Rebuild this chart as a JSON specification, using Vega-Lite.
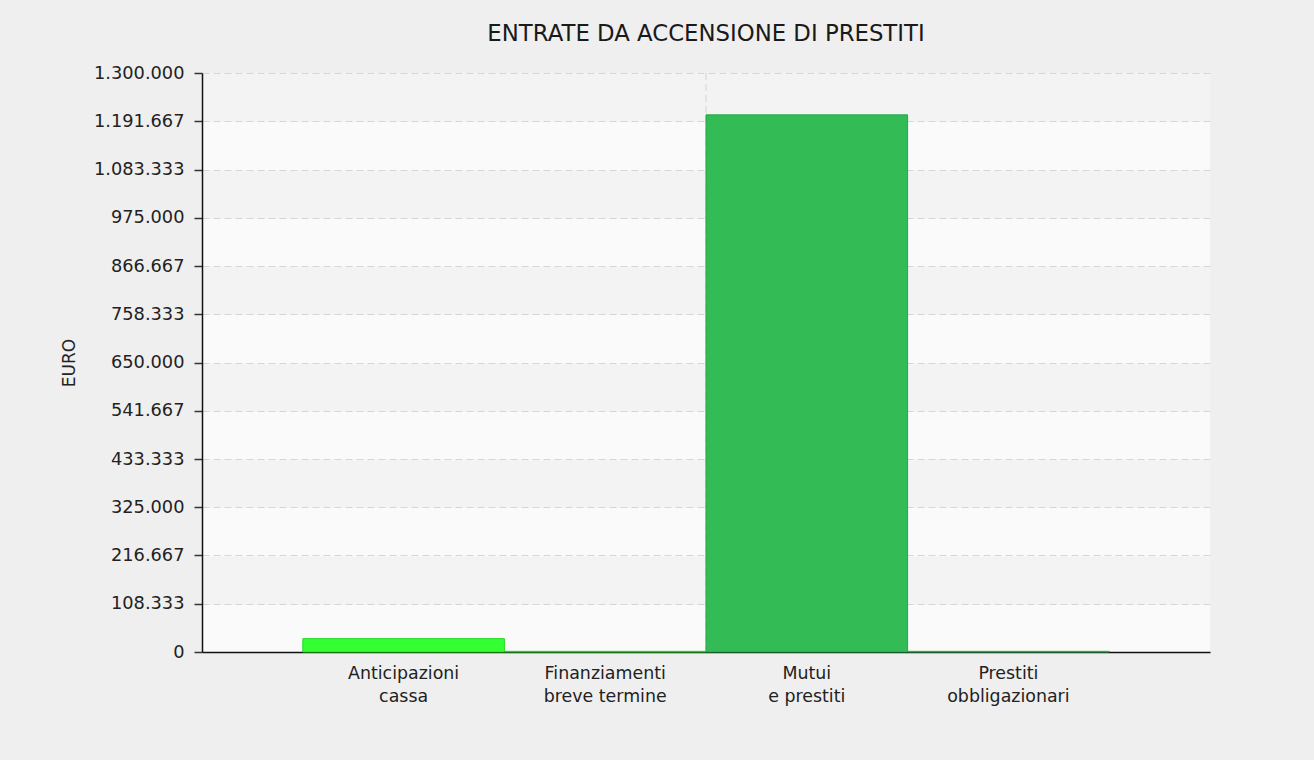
{
  "$schema": "https://vega.github.io/schema/vega-lite/v6.json",
  "width": 1008,
  "height": 579,
  "autosize": {"type": "none"},
  "padding": {"left": 202, "top": 73, "right": 104, "bottom": 108},
  "background": "#efefef",
  "title": {
    "text": "ENTRATE DA ACCENSIONE DI PRESTITI",
    "fontSize": 22.8,
    "fontWeight": "normal",
    "color": "#1a1a1a",
    "font": "DejaVu Sans",
    "anchor": "middle",
    "frame": "group",
    "offset": 18
  },
  "data": {
    "values": [
      {"voce": "Anticipazioni cassa", "euro": 30000},
      {"voce": "Finanziamenti breve termine", "euro": 1500},
      {"voce": "Mutui e prestiti", "euro": 1206000},
      {"voce": "Prestiti obbligazionari", "euro": 1500}
    ]
  },
  "resolve": {"axis": {"y": "independent"}},
  "layer": [
    {
      "mark": {"type": "bar", "opacity": 0},
      "encoding": {
        "x": {"field": "voce", "type": "nominal", "sort": null, "scale": {"paddingInner": 0, "paddingOuter": 0.5}},
        "y": {
          "field": "euro",
          "type": "quantitative",
          "scale": {"domain": [0, 1300000], "nice": false, "zero": true},
          "axis": {
            "orient": "left",
            "values": [1245833.333, 1029166.667, 812500, 595833.333, 379166.667, 162500],
            "grid": true,
            "gridColor": "#f3f3f3",
            "gridWidth": 48.25,
            "gridDash": [],
            "labels": false,
            "ticks": false,
            "domain": false,
            "title": null
          }
        }
      }
    },
    {
      "transform": [{"filter": "datum.voce == 'Mutui e prestiti'"}],
      "mark": {"type": "rule", "color": "#d4d4d4", "strokeDash": [7, 4], "strokeWidth": 1},
      "encoding": {
        "x": {"field": "voce", "type": "nominal", "sort": null, "bandPosition": 0}
      }
    },
    {
      "mark": {"type": "bar", "strokeWidth": 1},
      "encoding": {
        "x": {
          "field": "voce",
          "type": "nominal",
          "sort": null,
          "axis": {
            "title": null,
            "labelAngle": 0,
            "labelAlign": "center",
            "labelExpr": "[substring(datum.value, 0, indexof(datum.value, ' ')), substring(datum.value, indexof(datum.value, ' ') + 1)]",
            "labelFont": "DejaVu Sans",
            "labelFontSize": 17.4,
            "labelLineHeight": 23,
            "labelPadding": 21,
            "labelColor": "#222222",
            "ticks": false,
            "domainColor": "#111111",
            "domainWidth": 1.5,
            "grid": false
          }
        },
        "y": {
          "field": "euro",
          "type": "quantitative",
          "axis": {
            "orient": "left",
            "values": [0, 108333.333, 216666.667, 325000, 433333.333, 541666.667, 650000, 758333.333, 866666.667, 975000, 1083333.333, 1191666.667, 1300000],
            "format": ",.0f",
            "labelFont": "DejaVu Sans",
            "labelFontSize": 17.8,
            "labelColor": "#222222",
            "tickSize": 8,
            "tickColor": "#333333",
            "tickWidth": 1.5,
            "labelPadding": 10,
            "domainColor": "#111111",
            "domainWidth": 1.5,
            "grid": true,
            "gridColor": "#d6d6d6",
            "gridDash": [7, 4],
            "title": "EURO",
            "titleFont": "DejaVu Sans",
            "titleFontSize": 17,
            "titleFontWeight": "normal",
            "titleColor": "#222222",
            "titlePadding": 15
          }
        },
        "fill": {
          "field": "voce",
          "type": "nominal",
          "scale": {
            "domain": ["Anticipazioni cassa", "Finanziamenti breve termine", "Mutui e prestiti", "Prestiti obbligazionari"],
            "range": ["#33ff33", "#2eea2e", "#33bb55", "#33bb55"]
          },
          "legend": null
        },
        "stroke": {
          "field": "voce",
          "type": "nominal",
          "scale": {
            "domain": ["Anticipazioni cassa", "Finanziamenti breve termine", "Mutui e prestiti", "Prestiti obbligazionari"],
            "range": ["#22dd22", "#22d022", "#23a844", "#2aaa4a"]
          },
          "legend": null
        }
      }
    }
  ],
  "config": {
    "font": "DejaVu Sans",
    "locale": {"number": {"decimal": ",", "thousands": ".", "grouping": [3], "currency": ["", " €"]}},
    "view": {"fill": "#fafafa", "stroke": null}
  }
}
